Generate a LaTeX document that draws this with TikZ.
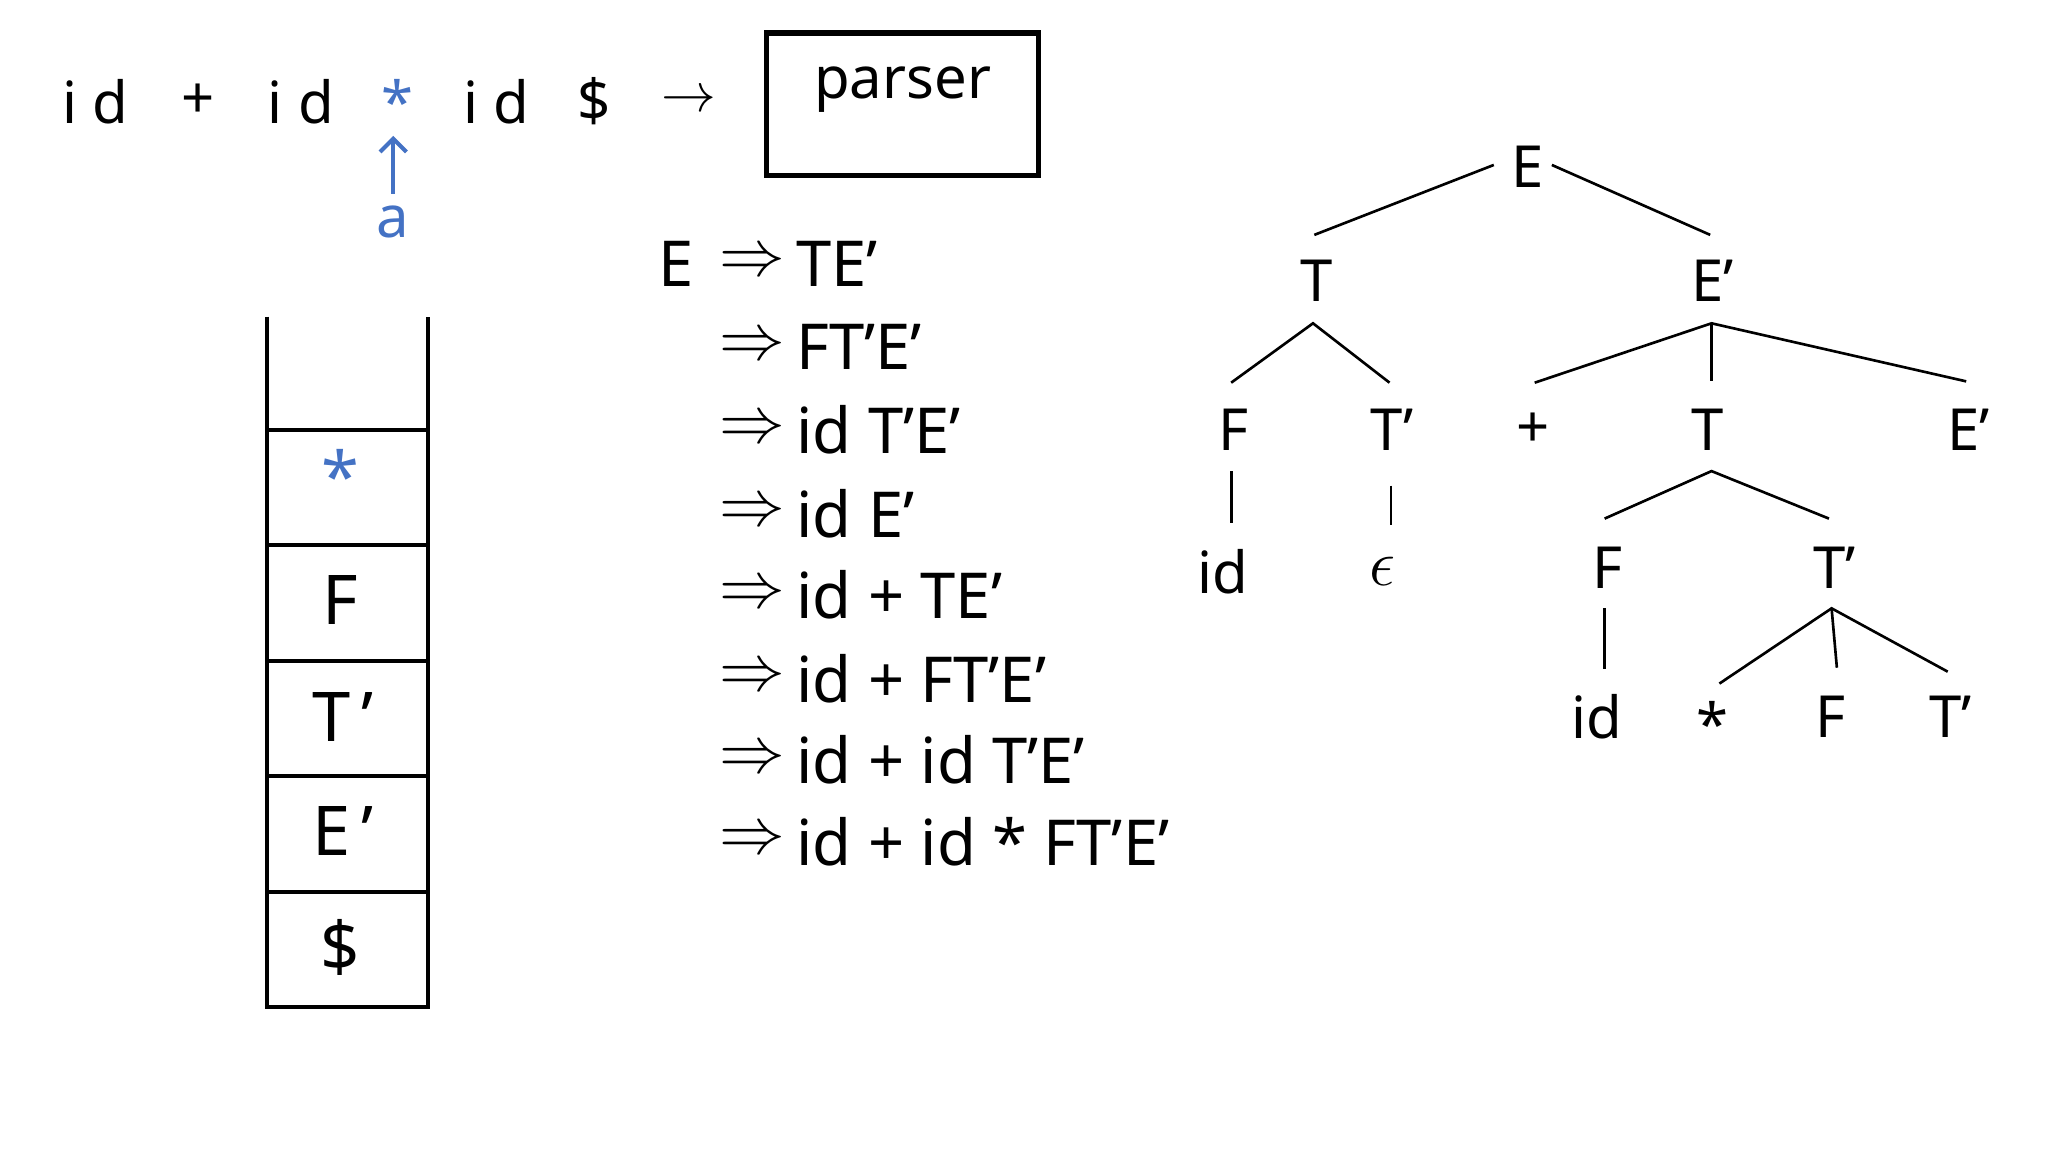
\documentclass[tikz,border=0pt]{standalone}
\usepackage{fontspec}
\usetikzlibrary{arrows.meta}
\setmainfont{Noto Sans}
\begin{document}
\begin{tikzpicture}[x=0.5pt,y=-0.5pt,
  tx/.style={inner sep=0pt,anchor=center,font=\fontsize{22}{26}\selectfont},
  sk/.style={inner sep=0pt,anchor=center,font=\fontsize{26}{30}\selectfont},
  dv/.style={inner sep=0pt,anchor=west,font=\fontsize{24}{28}\selectfont},
  bl/.style={text={rgb,255:red,68;green,114;blue,196}},
  ln/.style={line width=1pt}]
\useasboundingbox (0,0) rectangle (1552,873);
\def\p{’}
% input
\node[tx] (i1) at (72,77) {i d};
\node[tx] (pl) at (150,77) {+};
\node[tx] (i2) at (228,77) {i d};
\node[tx,bl] (st) at (301,77) {*};
\node[tx] (i3) at (376,77) {i d};
\node[tx] (dl) at (450,77) {\$};
\node[tx] (ar) at (522,77) {$\rightarrow$};
\node[draw,line width=2pt,minimum width=103pt,minimum height=54pt,inner sep=0pt] (parser) at (684,79) {};
\node[tx] (pt) at (684,68) {parser};
\node[tx,bl] (a) at (298,168) {a};
\coordinate (aa) at (298,147);
\coordinate (ab) at (298,103);
\draw[line width=1.5pt,draw={rgb,255:red,68;green,114;blue,196},-{Straight Barb[length=5pt]}] (aa) -- (ab);
% stack
\coordinate (s0) at (202,240); \coordinate (s1) at (324,240);
\coordinate (s2) at (202,763); \coordinate (s3) at (324,763);
\draw[line width=1.5pt] (s0) -- (s2) -- (s3) -- (s1);
\foreach \y in {326,413,501,588,676} \draw[line width=1.5pt] (202,\y) -- (324,\y);
\node[sk,bl] (k1) at (258,360) {*};
\node[sk] (k2) at (258,455) {F};
\node[sk] (k3) at (260,543) {T\,\p};
\node[sk] (k4) at (260,630) {E\,\p};
\node[sk] (k5) at (258,718) {\$};
% derivation
\node[dv,anchor=center] (dE) at (512,200) {E};
\foreach \y/\t [count=\i] in {200/TE\p, 263/FT\p E\p, 326/id T\p E\p, 389/id E\p, 451/id + TE\p, 514/id + FT\p E\p, 576/id + id T\p E\p, 638/id + id * FT\p E\p}{
  \node[dv,anchor=center] (r\i) at (570,\y) {$\Rightarrow$};
  \node[dv] (d\i) at (603,\y) {\t};
}
% tree
\node[tx] (E) at (1158,126) {E};
\node[tx] (T) at (998,213) {T};
\node[tx] (Ep) at (1298,213) {E\p};
\node[tx] (F1) at (935,326) {F};
\node[tx] (Tp1) at (1055,326) {T\p};
\node[tx] (plus) at (1162,326) {+};
\node[tx] (T2) at (1294,326) {T};
\node[tx] (Ep2) at (1492,326) {E\p};
\node[tx] (id1) at (927,433) {id};
\node[tx,font=\fontsize{28}{30}\selectfont] (eps) at (1048,433) {$\epsilon$};
\node[tx] (F2) at (1218,430) {F};
\node[tx] (Tp2) at (1390,430) {T\p};
\node[tx] (id2) at (1210,543) {id};
\node[tx] (st2) at (1298,548) {*};
\node[tx] (F3) at (1387,543) {F};
\node[tx] (Tp3) at (1478,543) {T\p};
\draw[ln] (1132,125) -- (996,178);
\draw[ln] (1176,125) -- (1296,178);
\draw[ln] (933,290) -- (995,245) -- (1053,290);
\draw[ln] (1163,290) -- (1297,245) -- (1490,289);
\draw[ln] (1297,245) -- (1297,289);
\draw[ln] (933,357) -- (933,396);
\draw[ln] (1054,368) -- (1054,398);
\draw[ln] (1216,393) -- (1297,357) -- (1386,393);
\draw[ln] (1216,461) -- (1216,507);
\draw[ln] (1303,518) -- (1388,461) -- (1476,509);
\draw[ln] (1388,461) -- (1392,506);
\end{tikzpicture}
\end{document}
